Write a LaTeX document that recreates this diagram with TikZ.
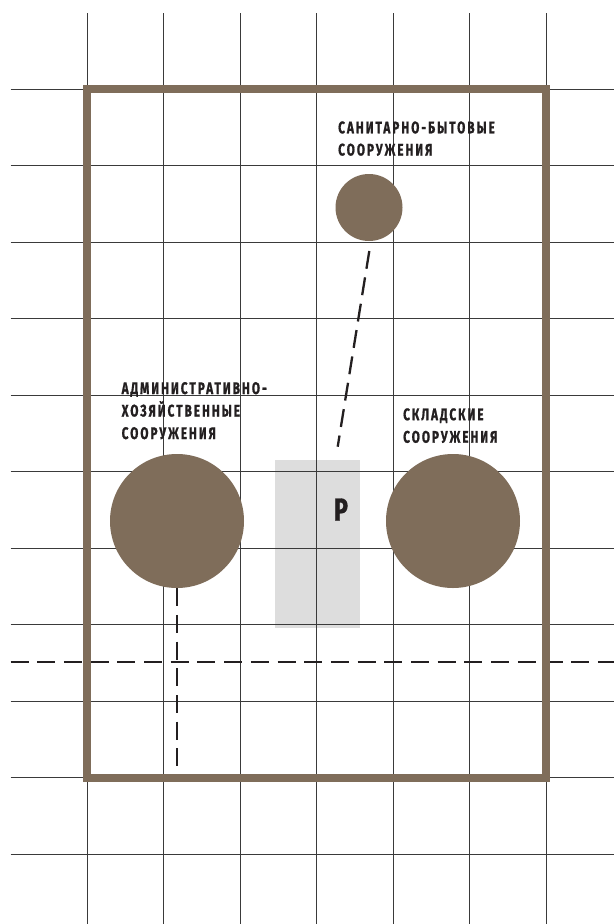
\documentclass[tikz,border=0pt]{standalone}
\usepackage{fontspec}
\newfontfamily\lblfont[FakeStretch=0.7,LetterSpace=12,FakeBold=1]{Fira Sans}
\newfontfamily\pfont[FakeStretch=0.72,FakeBold=1]{Fira Sans}
\definecolor{brownc}{HTML}{7F6D5A}
\definecolor{inkc}{HTML}{231F20}
\definecolor{gridc}{HTML}{3A3A3A}
\definecolor{parkc}{HTML}{DDDDDD}
\tikzset{
  gridline/.style={draw=gridc, line width=1pt},
  framebox/.style={draw=brownc, line width=8pt},
  blob/.style={circle, fill=brownc, inner sep=0pt},
  link/.style={draw=inkc, line width=2.3pt, dash pattern=on 18pt off 8.7pt},
  lbl/.style={inner sep=0pt, anchor=base west, text=inkc, font=\lblfont\bfseries\fontsize{16.8}{20}\selectfont},
}
\begin{document}
\begin{tikzpicture}[x=1pt,y=-1pt]
\useasboundingbox (0,0) rectangle (614,924);
\fill[white] (0,0) rectangle (614,924);
% parking area
\node[fill=parkc, minimum width=85pt, minimum height=168pt, inner sep=0pt, anchor=north west] (park) at (275,460) {};
% grid
\foreach \i in {0,...,6} {
  \draw[gridline] ({87+76.5*\i},13) -- ({87+76.5*\i},924);
}
\foreach \j in {0,...,10} {
  \draw[gridline] (10.5,{89+76.5*\j}) -- (614,{89+76.5*\j});
}
% dashed connectors
\coordinate (hL) at (10.5,662);
\coordinate (hR) at (614,662);
\draw[link] (hL) -- (hR);
\coordinate (s1) at (369.3,251);
\coordinate (s2) at (337.7,446.7);
\draw[link] (s1) -- (s2);
% site frame
\draw[framebox] (87,89) rectangle (546,777.5);
% buildings
\node[blob, minimum size=67pt] (san) at (369,207.5) {};
\node[blob, minimum size=134pt] (adm) at (177,521) {};
\node[blob, minimum size=134pt] (skl) at (453,521) {};
\coordinate (aEnd) at (177,767);
\draw[link] (adm.south) -- (aEnd);
% labels
\node[lbl] (t1) at (338,133.3) {САНИТАРНО-БЫТОВЫЕ};
\node[lbl] (t2) at (338,155.5) {СООРУЖЕНИЯ};
\node[lbl] (t3) at (121.5,394) {АДМИНИСТРАТИВНО-};
\node[lbl] (t4) at (121.5,416.5) {ХОЗЯЙСТВЕННЫЕ};
\node[lbl] (t5) at (121.5,439) {СООРУЖЕНИЯ};
\node[lbl] (t6) at (403,420.2) {СКЛАДСКИЕ};
\node[lbl] (t7) at (403,442.7) {СООРУЖЕНИЯ};
\node[inner sep=0pt, anchor=base, text=inkc, font=\pfont\bfseries\fontsize{32}{36}\selectfont] (pl) at (341,520.7) {P};
\end{tikzpicture}
\end{document}
